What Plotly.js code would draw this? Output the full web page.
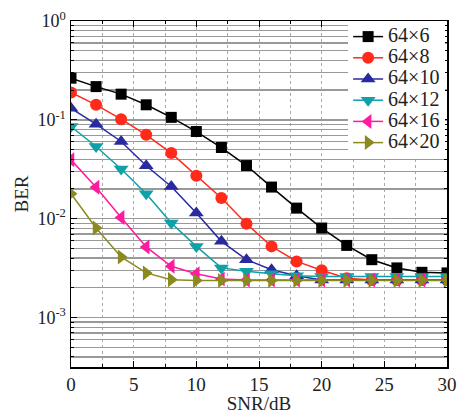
<!DOCTYPE html>
<html>
<head>
<meta charset="utf-8">
<script src="https://cdn.plot.ly/plotly-3.0.1.min.js"></script>
<style>html,body{margin:0;padding:0;background:#fff;}#chart{width:457px;height:414px;}</style>
</head>
<body>
<div id="chart"></div>
<script>
const snr = [0, 2, 4, 6, 8, 10, 12, 14, 16, 18, 20, 22, 24, 26, 28, 30];
const seriesNames = ["64×6", "64×8", "64×10", "64×12", "64×16", "64×20"];
const ber64x6  = [0.264, 0.217, 0.182, 0.142, 0.106, 0.0762, 0.0525, 0.0345, 0.0209, 0.0128, 0.00805, 0.00537, 0.00385, 0.00318, 0.00287, 0.00283];
const ber64x8  = [0.189, 0.142, 0.1016, 0.0706, 0.0461, 0.0272, 0.0162, 0.0089, 0.00525, 0.0037, 0.00301, 0.0025, 0.0024, 0.0024, 0.0024, 0.0024];
const ber64x10 = [0.131, 0.0905, 0.0604, 0.0343, 0.0212, 0.0114, 0.0059, 0.00385, 0.00305, 0.00265, 0.0024, 0.0024, 0.0024, 0.0024, 0.0024, 0.0024];
const ber64x12 = [0.0856, 0.0538, 0.0318, 0.0179, 0.00904, 0.00525, 0.00318, 0.00294, 0.00278, 0.00265, 0.0026, 0.0026, 0.0026, 0.0026, 0.0026, 0.0026];
const ber64x16 = [0.0394, 0.0208, 0.0103, 0.00518, 0.0033, 0.00278, 0.00245, 0.0024, 0.0024, 0.0024, 0.0024, 0.0024, 0.0024, 0.0024, 0.0024, 0.0024];
const ber64x20 = [0.0179, 0.00805, 0.0041, 0.00283, 0.00242, 0.00237, 0.00237, 0.00237, 0.00237, 0.00237, 0.00237, 0.00237, 0.00237, 0.00237, 0.00237, 0.00237];
const yTickVals = [1, 0.1, 0.01, 0.001];
const yTickText = ["10<sup>0</sup>", "10<sup>-1</sup>", "10<sup>-2</sup>", "10<sup>-3</sup>"];
const xTickVals = [0, 5, 10, 15, 20, 25, 30];

const allSeries = [ber64x6, ber64x8, ber64x10, ber64x12, ber64x16, ber64x20];
const colors = ["#000000", "#ff2a1a", "#2a2aa0", "#0fa0a8", "#ff1aa0", "#8a8a1e"];
const symbols = ["square", "circle", "triangle-up", "triangle-down", "triangle-left", "triangle-right"];
const sizes = [11, 12, 13, 13, 13, 13];

const traces = allSeries.map((ys, i) => ({
  x: snr, y: ys, type: "scatter", mode: "lines+markers",
  name: '<span style="font-size:20px">' + seriesNames[i] + '</span>',
  line: {color: colors[i], width: 1.5},
  marker: {symbol: symbols[i], color: colors[i], size: sizes[i]}
}));

// minor grid positions for the log axis (2..9 per decade)
const minorY = [];
for (let e = -4; e <= 0; e++) for (let d = 2; d <= 9; d++) minorY.push(d * Math.pow(10, e));

const FAM = "Liberation Serif";
const layout = {
  width: 457, height: 414,
  margin: {l: 71, r: 10, t: 21, b: 47},
  paper_bgcolor: "#fff", plot_bgcolor: "#fff",
  font: {family: FAM, size: 18, color: "#222"},
  showlegend: true,
  legend: {x: 0.995, xanchor: "right", y: 1, yanchor: "top", bgcolor: "#fff",
           font: {family: FAM, size: 14, color: "#222"}, itemwidth: 30, tracegroupgap: 0,
           borderwidth: 0},
  xaxis: {
    range: [0, 30], tickmode: "array", tickvals: xTickVals,
    showline: true, linecolor: "#000", linewidth: 1.5, mirror: "allticks",
    ticks: "inside", ticklen: 6, tickcolor: "#000",
    showgrid: true, gridcolor: "#aaa", griddash: "dot", gridwidth: 1,
    zeroline: false,
    tickfont: {family: FAM, size: 19, color: "#222"},
    title: {text: "SNR/dB", font: {family: FAM, size: 19, color: "#222"}, standoff: 1},
    minor: {dtick: 2.5, tick0: 0, ticks: "inside", ticklen: 3, tickcolor: "#000",
            showgrid: true, gridcolor: "#aaa", griddash: "dot", gridwidth: 1}
  },
  yaxis: {
    type: "log", range: [-3.5, 0], tickmode: "array", tickvals: yTickVals, ticktext: yTickText,
    showline: true, linecolor: "#000", linewidth: 1.5, mirror: "allticks",
    ticks: "inside", ticklen: 6, tickcolor: "#000",
    showgrid: true, gridcolor: "#999", gridwidth: 1.3,
    zeroline: false,
    tickfont: {family: FAM, size: 18, color: "#222"},
    title: {text: "BER", font: {family: FAM, size: 19, color: "#222"}, standoff: 4},
    minor: {tickmode: "array", tickvals: minorY, ticks: "inside", ticklen: 3, tickcolor: "#000",
            showgrid: true, gridcolor: "#999", gridwidth: 1.3}
  }
};
Plotly.newPlot("chart", traces, layout, {displayModeBar: false, staticPlot: true});
</script>
</body>
</html>
